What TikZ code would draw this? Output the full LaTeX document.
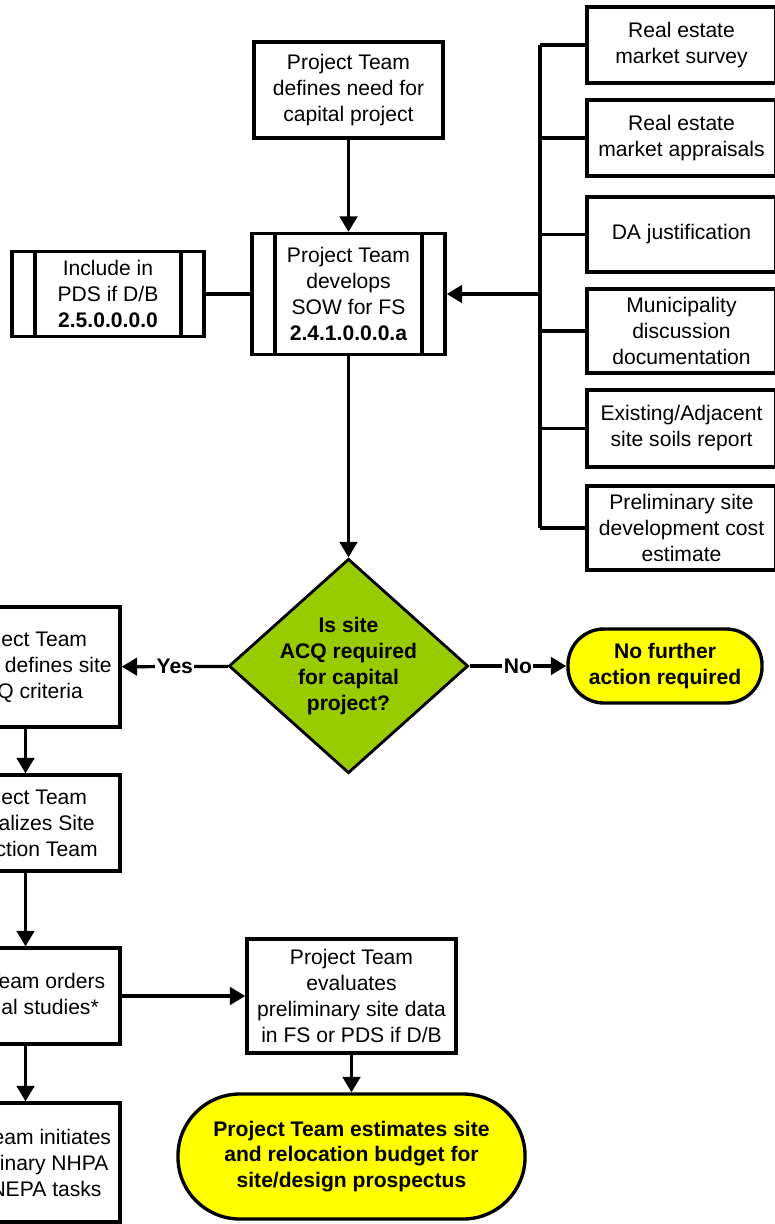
\documentclass[tikz,border=0pt]{standalone}
\usepackage{fontspec}
\setmainfont{Liberation Sans}
\usetikzlibrary{arrows.meta,shapes.geometric}

\definecolor{acqgreen}{HTML}{99CC00}
\definecolor{termyellow}{HTML}{FFFF00}

\begin{document}
\begin{tikzpicture}[x=0.025cm, y=-0.025cm,
		every node/.style={font=\fontsize{15}{18.5}\selectfont, align=center},
		box/.style={draw, line width=2.4pt, inner sep=2pt, minimum width=4.725cm},
		subproc/.style={box, path picture={
			\draw[line width=2.4pt] ([xshift=0.58cm]path picture bounding box.north west) -- ([xshift=0.58cm]path picture bounding box.south west);
			\draw[line width=2.4pt] ([xshift=-0.58cm]path picture bounding box.north east) -- ([xshift=-0.58cm]path picture bounding box.south east);}},
		decision/.style={draw, diamond, fill=acqgreen, line width=2pt, shape aspect=1.116, inner sep=-1pt, font=\fontsize{15}{18.3}\selectfont\bfseries},
		term/.style={draw, rectangle, fill=termyellow, line width=2.4pt, font=\fontsize{15}{18.3}\selectfont\bfseries},
		answer/.style={fill=white, inner sep=1pt, font=\fontsize{15}{18}\selectfont\bfseries},
		line/.style={line width=2.3pt},
		arr/.style={line, -{Triangle[length=11pt, width=12.5pt]}}
	]
	\useasboundingbox (0,0) rectangle (775,1224);

	% Main column
	\node[box, minimum height=2.4cm] (need) at (348.5,90) {Project Team\\defines need for\\capital project};
	\node[subproc, minimum width=4.825cm, minimum height=3.025cm] (sow) at (348.5,294) {Project Team\\develops\\SOW for FS\\\textbf{2.4.1.0.0.0.a}};
	\node[subproc, minimum width=4.8cm, minimum height=2.125cm] (pds) at (108,294) {Include in\\PDS if D/B\\\textbf{2.5.0.0.0.0}};
	\node[decision] (acq) at (348.5,666) {Is site\\ACQ required\\for capital\\project?};
	\node[term, rounded corners=0.9cm, minimum width=4.85cm, minimum height=1.85cm] (nofurther) at (665,666) {No further\\action required};

	% Inputs to the SOW
	\node[box, minimum height=1.9cm] (survey) at (681.5,45) {Real estate\\market survey};
	\node[box, minimum height=1.9cm] (apprais) at (681.5,138) {Real estate\\market appraisals};
	\node[box, minimum height=1.875cm] (dajust) at (681.5,234.5) {DA justification};
	\node[box, minimum height=2.1cm] (muni) at (681.5,331) {Municipality\\discussion\\documentation};
	\node[box, minimum height=1.925cm] (soils) at (681.5,428.5) {Existing/Adjacent\\site soils report};
	\node[box, minimum height=2.1cm] (costest) at (681.5,528) {Preliminary site\\development cost\\estimate};

	% Site ACQ branch
	\node[box, minimum height=3cm] (criteria) at (25.5,667) {Project Team\\Realty defines site\\ACQ criteria};
	\node[box, minimum height=2.4cm] (sst) at (25.5,823) {Project Team\\formalizes Site\\Selection Team};
	\node[box, minimum height=2.4cm] (studies) at (25.5,996) {Site Team orders\\special studies*};
	\node[box, minimum height=2.975cm] (nepa) at (25.5,1162.5) {Site Team initiates\\preliminary NHPA\\and NEPA tasks};
	\node[box, minimum width=5.225cm, minimum height=2.85cm] (evaluate) at (351.5,996) {Project Team\\evaluates\\preliminary site data\\in FS or PDS if D/B};
	\node[term, rounded corners=1.55cm, minimum width=8.675cm, minimum height=3.125cm] (budget) at (351.5,1156.5) {Project Team estimates site\\and relocation budget for\\site/design prospectus};

	% Connectors
	\draw[arr] (need) -- (sow);
	\draw[line] (pds) -- (sow);
	\draw[arr] (sow) -- (acq);
	\draw[arr] (acq) -- node[answer] {Yes} (criteria);
	\draw[arr] (acq) -- node[answer] {No} (nofurther);
	\draw[arr] (criteria) -- (sst);
	\draw[arr] (sst) -- (studies);
	\draw[arr] (studies) -- (nepa);
	\draw[arr] (studies) -- (evaluate);
	\draw[arr] (evaluate) -- (budget);

	% Bus from the input boxes
	\coordinate (bus) at (540,294);
	\draw[arr] (bus) -- (sow);
	\draw[line, line width=2.9pt] (survey.west -| bus) -- (costest.west -| bus);
	\foreach \b in {survey, apprais, dajust, muni, soils, costest}
		\draw[line] (\b.west) -- (\b.west -| bus);
\end{tikzpicture}
\end{document}
